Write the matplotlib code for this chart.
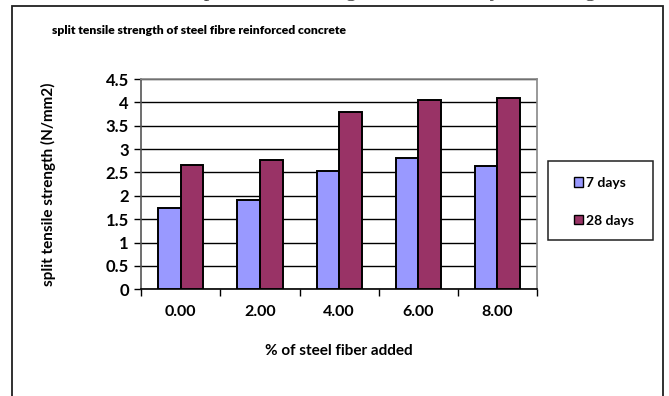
import matplotlib
matplotlib.use("Agg")
import matplotlib.pyplot as plt
from matplotlib.patches import Rectangle
import numpy as np

categories = ["0.00", "2.00", "4.00", "6.00", "8.00"]
days7 = [1.74, 1.91, 2.54, 2.80, 2.64]
days28 = [2.65, 2.77, 3.80, 4.06, 4.10]
series_names = ["7 days", "28 days"]
yticks = [0, 0.5, 1, 1.5, 2, 2.5, 3, 3.5, 4, 4.5]
ytick_labels = ["0", "0.5", "1", "1.5", "2", "2.5", "3", "3.5", "4", "4.5"]

W, H = 669, 396
plt.rcParams['font.family'] = ['Lato', 'DejaVu Sans']
plt.rcParams['font.weight'] = 'bold'

fig = plt.figure(figsize=(W / 100, H / 100), dpi=100)
fig.patch.set_facecolor('white')

def fx(px):
    return px / W

def fy(py):
    return 1 - py / H

# outer chart border
fig.add_artist(Rectangle((fx(12), fy(420)), fx(663) - fx(12), fy(5.5) - fy(420),
                         transform=fig.transFigure, fill=False, edgecolor='#202020',
                         linewidth=1.3, clip_on=False))

# caption cut off at top (only its lowest part shows in the reference)
fig.text(fx(355), fy(-4), "Table 3: Split tensile strength at 7 & 28 days of curing",
         family=['Liberation Serif'], fontweight='normal', fontsize=16,
         ha='center', va='baseline', color='#444444')

ax = fig.add_axes([fx(141.3), fy(289.3), fx(537) - fx(141.3), fy(79) - fy(289.3)])

x = np.arange(len(categories))
bw = 1 / 3.5
ax.bar(x - bw / 2, days7, width=bw, color='#9999FF', edgecolor='black', linewidth=1.4,
       label=series_names[0], zorder=3)
ax.bar(x + bw / 2, days28, width=bw, color='#993366', edgecolor='black', linewidth=1.4,
       label=series_names[1], zorder=3)

ax.set_xlim(-0.5, len(categories) - 0.5)
ax.set_ylim(0, 4.5)
ax.set_yticks(yticks)
ax.set_yticklabels(ytick_labels, fontsize=12, fontweight='bold')
ax.set_xticks(x)
ax.set_xticklabels(categories, fontsize=11.5, fontweight='bold')
ax.tick_params(axis='x', length=0, pad=11)
ax.set_xticks(np.arange(-0.5, len(categories), 1), minor=True)
ax.tick_params(axis='x', which='minor', length=5, width=1, direction='out', color='black')
ax.tick_params(axis='y', length=5, width=1, direction='out', color='black', pad=4)

ax.yaxis.grid(True, color='black', linewidth=1, zorder=0)
ax.set_axisbelow(True)
for s in ['top', 'right']:
    ax.spines[s].set_color('#888888')
    ax.spines[s].set_linewidth(1.2)
ax.spines['left'].set_color('#555555')
ax.spines['left'].set_linewidth(1.2)
ax.spines['bottom'].set_color('black')
ax.spines['bottom'].set_linewidth(1.2)

ax.set_ylabel("split tensile strength (N/mm2)", fontsize=11, fontweight='bold', labelpad=36)
ax.set_xlabel("% of steel fiber added", fontsize=11, fontweight='bold', labelpad=18)

fig.text(fx(52), fy(30), "split tensile strength of steel fibre reinforced concrete",
         fontsize=8.7, fontweight='heavy', ha='left', va='center')

# legend box
fig.add_artist(Rectangle((fx(548.3), fy(240)), fx(652.7) - fx(548.3), fy(160.7) - fy(240),
                         transform=fig.transFigure, fill=True, facecolor='white',
                         edgecolor='#202020', linewidth=1.1))
leg = fig.legend(loc='upper left', bbox_to_anchor=(fx(567), fy(170)), frameon=False,
                 handlelength=0.65, handleheight=0.65, handletextpad=0.25,
                 labelspacing=1.85, borderpad=0, prop={'weight': 'bold', 'size': 10})
for h in leg.legend_handles:
    h.set_linewidth(1.0)

fig.savefig("out.png", dpi=100)
